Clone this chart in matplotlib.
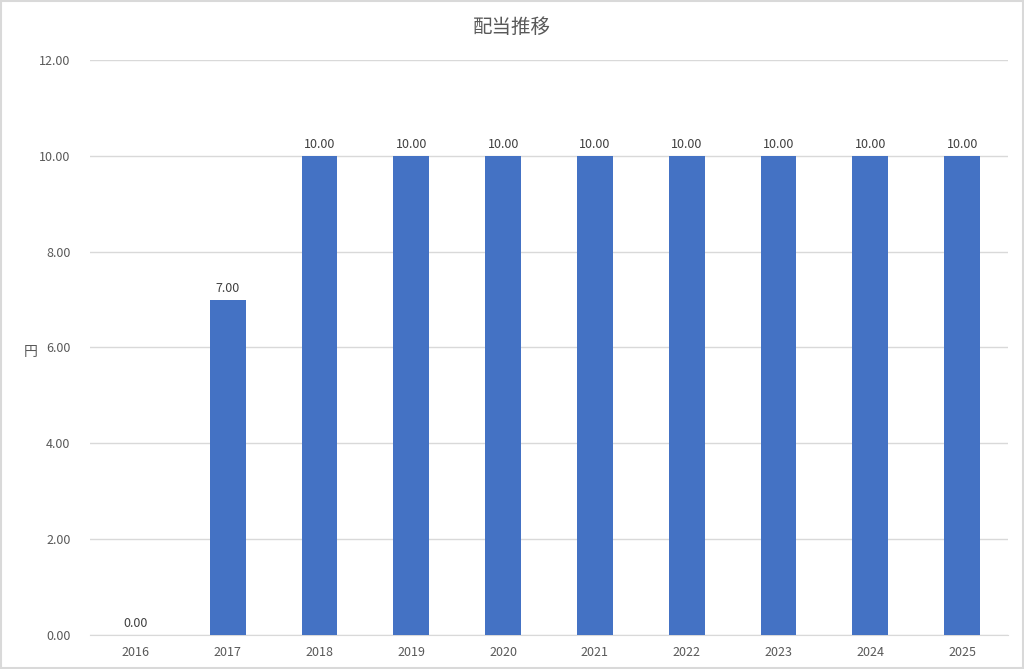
import matplotlib
matplotlib.use("Agg")
import matplotlib.pyplot as plt
import numpy as np

plt.rcParams['font.family'] = ['Noto Sans CJK JP', 'DejaVu Sans']

years = ["2016", "2017", "2018", "2019", "2020", "2021", "2022", "2023", "2024", "2025"]
dividends = [0.0, 7.0, 10.0, 10.0, 10.0, 10.0, 10.0, 10.0, 10.0, 10.0]
yticks = [0, 2, 4, 6, 8, 10, 12]

text_col = "#595959"

fig = plt.figure(figsize=(10.24, 6.69), dpi=100)
ax = fig.add_axes([0.0879, 0.0508, 0.8965, 0.8596])

x = np.arange(len(years))
ax.bar(x, dividends, width=0.39, color="#4472C4", zorder=3)
for xi, v in zip(x, dividends):
    ax.text(xi, v + 0.1, f"{v:.2f}", ha="center", va="bottom", fontsize=9, color="#404040")

ax.set_xlim(-0.5, len(years) - 0.5)
ax.set_ylim(0, 12)
ax.set_yticks(yticks)
ax.set_yticklabels([f"{t:.2f}" for t in yticks])
ax.set_xticks(x)
ax.set_xticklabels(years)
ax.tick_params(axis="both", length=0, labelsize=9, labelcolor=text_col)
ax.tick_params(axis="y", pad=14)
ax.tick_params(axis="x", pad=8)
ax.grid(True, axis="y", color="#D9D9D9", linewidth=1, zorder=0)
for s in ["top", "right", "left"]:
    ax.spines[s].set_visible(False)
ax.spines["bottom"].set_color("#D9D9D9")

fig.text(0.5, 0.959, "配当推移", fontsize=14, color=text_col, ha="center", va="center")
fig.text(0.030, 0.474, "円", fontsize=10, color=text_col, ha="center", va="center")

# light frame round the whole chart
fig.patches.append(plt.Rectangle((0.001, 0.001), 0.998, 0.997, transform=fig.transFigure,
                                 fill=False, edgecolor="#D9D9D9", linewidth=1.5))

plt.savefig("out.png", dpi=100)
